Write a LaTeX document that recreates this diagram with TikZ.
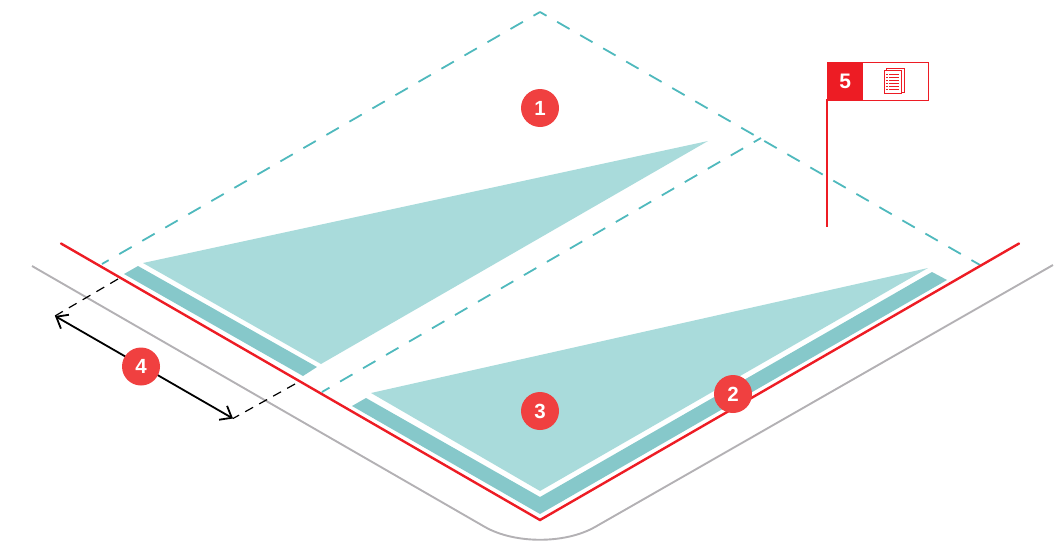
\documentclass[tikz,border=0pt]{standalone}
\usepackage{fontspec}
\setmainfont{Liberation Sans}
\usetikzlibrary{arrows.meta}
\definecolor{lightteal}{HTML}{A9DBDB}
\definecolor{darkteal}{HTML}{86C8CA}
\definecolor{dashteal}{HTML}{4FB9BD}
\definecolor{redline}{HTML}{ED1C24}
\definecolor{badge}{HTML}{F04040}
\definecolor{grayline}{HTML}{B3B1B4}
\tikzset{
  badgenode/.style={circle,fill=badge,minimum size=38pt,inner sep=0pt,text=white,font=\bfseries\fontsize{20.5}{20.5}\selectfont},
  tealdash/.style={draw=dashteal,line width=1.8pt,dash pattern=on 14.3pt off 12.25pt},
  blackdash/.style={draw=black,line width=1.2pt,dash pattern=on 9pt off 7pt},
  redl/.style={draw=redline,line width=2.4pt},
  flagl/.style={draw=redline,line width=1.3pt},
  docl/.style={draw=redline,line width=1pt},
  barbtip/.tip={Straight Barb[length=10pt,width=16pt,line width=1.8pt]}
}
\begin{document}
\begin{tikzpicture}[x=1pt,y=-1pt]
\useasboundingbox (0,0) rectangle (1064,543);
% boundary
\coordinate (gl) at (32,266);
\coordinate (gcl) at (485,527);
\coordinate (gcr) at (595,527);
\coordinate (gr) at (1053,265);
\draw[grayline,line width=1.9pt] (gl) -- (gcl) .. controls (515,544) and (565,544) .. (gcr) -- (gr);
% fills
\fill[lightteal] (143,263) -- (708,141) -- (321,364) -- cycle;
\fill[lightteal] (371,393) -- (928,268) -- (540,491) -- cycle;
\fill[darkteal] (124,274) -- (138,266) -- (317,367) -- (303,376) -- cycle;
\fill[darkteal] (352,406) -- (366,398) -- (540,497) -- (932,272) -- (947,280) -- (540,514) -- cycle;
% dashed plot outline
\coordinate (tl) at (102,264);
\coordinate (top) at (540,12);
\coordinate (tr) at (980,265);
\coordinate (m1) at (761,138);
\coordinate (m2) at (322,392);
\draw[tealdash,dash phase=6.8pt] (top) -- (tl);
\draw[tealdash,dash phase=6.8pt] (top) -- (tr);
\draw[tealdash,dash phase=5.9pt] (m1) -- (m2);
% red frontage
\coordinate (rl) at (61,243.5);
\coordinate (rb) at (540,520);
\coordinate (rr) at (1019,243.5);
\draw[redl,line cap=round,miter limit=10] (rl) -- (rb) -- (rr);
% dimension
\coordinate (a1) at (118,279);
\coordinate (a2) at (55,316);
\coordinate (b1) at (295,384);
\coordinate (b2) at (233,418.5);
\draw[blackdash] (a1) -- (a2);
\draw[blackdash] (b1) -- (b2);
\draw[black,line width=1.8pt,barbtip-barbtip] (a2) -- (b2);
% flag
\coordinate (p1) at (827,99);
\coordinate (p2) at (827,227);
\draw[flagl] (p1) -- (p2);
\node[draw=redline,line width=1.2pt,minimum width=66pt,minimum height=37.5pt,inner sep=0pt,anchor=north west] (flagbox) at (862,62) {};
\node[fill=redline,draw=redline,line width=1.2pt,minimum width=35pt,minimum height=37.5pt,inner sep=0pt,anchor=north west,text=white,font=\bfseries\fontsize{21}{21}\selectfont] (flagnum) at (827,62) {5};
% document icon
\draw[docl,fill=white] (886,68.5) rectangle (904,92);
\draw[docl,fill=white] (884,70.5) rectangle (901,93.5);
\foreach \y in {74.5,77.5,80.5,83.5,86.5,89.5}{
  \draw[redline,line width=1pt] (886,\y) -- (887.5,\y);
  \draw[redline,line width=1pt] (889,\y) -- (898.5,\y);
}
% badges
\node[badgenode] (n1) at (540,108) {1};
\node[badgenode] (n2) at (733,394) {2};
\node[badgenode] (n3) at (540,411) {3};
\node[badgenode] (n4) at (141,366.5) {4};
\end{tikzpicture}
\end{document}
